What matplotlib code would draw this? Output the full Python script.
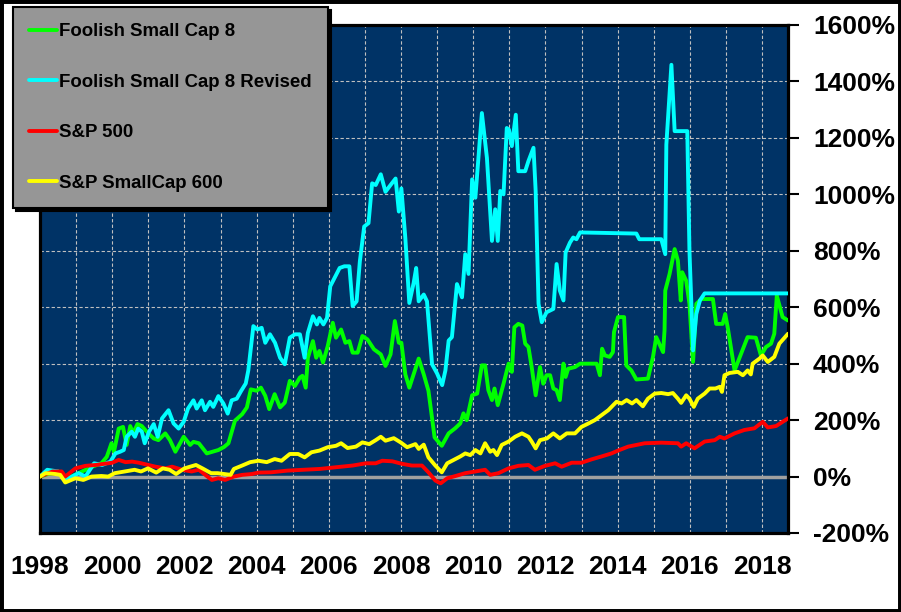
import matplotlib
matplotlib.use("Agg")
import matplotlib.pyplot as plt
from matplotlib.patches import Rectangle
from matplotlib.ticker import MultipleLocator, FuncFormatter

plt.rcParams['font.family'] = ['Liberation Sans', 'DejaVu Sans']
plt.rcParams['font.weight'] = 'bold'

# cumulative return (%), x in fractional years
fsc8_t = [1998.0, 1998.25, 1998.5, 1998.7, 1999.07, 1999.45, 1999.7, 1999.85, 1999.98, 2000.05,
          2000.18, 2000.3, 2000.4, 2000.5, 2000.58, 2000.7, 2000.82, 2001.0, 2001.15, 2001.28,
          2001.47, 2001.6, 2001.75, 2001.98, 2002.16, 2002.25, 2002.4, 2002.62, 2002.94, 2003.1,
          2003.22, 2003.4, 2003.6, 2003.73, 2003.84, 2004.0, 2004.12, 2004.24, 2004.35, 2004.5,
          2004.65, 2004.78, 2004.92, 2005.06, 2005.2, 2005.27, 2005.36, 2005.42, 2005.56, 2005.65,
          2005.74, 2005.84, 2005.97, 2006.11, 2006.2, 2006.34, 2006.46, 2006.57, 2006.66, 2006.8,
          2006.93, 2007.07, 2007.25, 2007.44, 2007.57, 2007.71, 2007.83, 2007.94, 2008.01, 2008.12,
          2008.23, 2008.35, 2008.49, 2008.63, 2008.76, 2008.93, 2009.13, 2009.32, 2009.5, 2009.64,
          2009.73, 2009.82, 2009.97, 2010.11, 2010.24, 2010.33, 2010.42, 2010.52, 2010.59, 2010.68,
          2010.84, 2010.98, 2011.07, 2011.14, 2011.25, 2011.36, 2011.44, 2011.53, 2011.62, 2011.73,
          2011.85, 2011.94, 2012.03, 2012.13, 2012.22, 2012.31, 2012.4, 2012.5, 2012.56, 2012.63,
          2012.82, 2012.96, 2013.42, 2013.51, 2013.57, 2013.65, 2013.78, 2013.87, 2013.9, 2014.01,
          2014.18, 2014.24, 2014.38, 2014.52, 2014.84, 2014.98, 2015.07, 2015.26, 2015.3, 2015.32,
          2015.44, 2015.58, 2015.67, 2015.75, 2015.79, 2015.9, 2015.99, 2016.09, 2016.18, 2016.32,
          2016.64, 2016.73, 2016.91, 2016.98, 2017.05, 2017.24, 2017.42, 2017.6, 2017.83, 2017.97,
          2018.11, 2018.25, 2018.34, 2018.41, 2018.57, 2018.72]
fsc8_v = [0, 10, 18, -10, 12, 35, 47, 70, 118, 88,
          170, 176, 112, 179, 153, 186, 179, 153, 135, 129,
          153, 129, 88, 141, 112, 123, 118, 82, 94, 105,
          118, 198, 221, 245, 309, 304, 315, 286, 239, 292,
          245, 262, 339, 321, 351, 357, 315, 421, 480, 421,
          445, 404, 462, 545, 492, 521, 474, 480, 439, 439,
          498, 486, 451, 433, 392, 433, 551, 474, 474, 362,
          315, 362, 418, 362, 304, 139, 109, 153, 171, 188,
          224, 200, 288, 294, 394, 394, 306, 271, 312, 253,
          329, 400, 371, 529, 541, 535, 471, 459, 388, 288,
          388, 329, 359, 359, 312, 306, 271, 400, 353, 382,
          388, 400, 400, 359, 453, 429, 424, 441, 512, 565,
          565, 394, 376, 344, 347, 424, 494, 441, 518, 659,
          718, 806, 765, 624, 724, 694, 612, 406, 612, 629,
          629, 541, 541, 576, 529, 376, 435, 494, 492, 429,
          459, 471, 506, 641, 565, 553]

rev_t = [1998.0, 1998.2, 1998.5, 1998.7, 1999.07, 1999.26, 1999.5, 1999.72, 1999.95, 2000.09,
         2000.22, 2000.32, 2000.4, 2000.54, 2000.63, 2000.72, 2000.82, 2000.9, 2001.02, 2001.15,
         2001.26, 2001.38, 2001.56, 2001.7, 2001.84, 2001.98, 2002.1, 2002.25, 2002.34, 2002.48,
         2002.57, 2002.71, 2002.8, 2002.94, 2003.08, 2003.2, 2003.31, 2003.45, 2003.57, 2003.7,
         2003.77, 2003.91, 2004.02, 2004.14, 2004.24, 2004.37, 2004.51, 2004.65, 2004.78, 2004.92,
         2005.06, 2005.2, 2005.33, 2005.42, 2005.56, 2005.67, 2005.74, 2005.85, 2005.95, 2006.04,
         2006.16, 2006.3, 2006.43, 2006.57, 2006.66, 2006.77, 2006.86, 2006.98, 2007.1, 2007.2,
         2007.3, 2007.44, 2007.57, 2007.71, 2007.85, 2007.94, 2008.01, 2008.12, 2008.23, 2008.35,
         2008.42, 2008.49, 2008.63, 2008.72, 2008.86, 2009.0, 2009.14, 2009.23, 2009.32, 2009.41,
         2009.55, 2009.69, 2009.78, 2009.87, 2009.97, 2010.06, 2010.24, 2010.38, 2010.52, 2010.61,
         2010.68, 2010.75, 2010.84, 2010.93, 2010.99, 2011.07, 2011.18, 2011.25, 2011.44, 2011.53,
         2011.67, 2011.73, 2011.81, 2011.9, 2012.03, 2012.22, 2012.31, 2012.4, 2012.5, 2012.56,
         2012.68, 2012.77, 2012.86, 2012.96, 2014.52, 2014.6, 2015.21, 2015.32, 2015.35, 2015.49,
         2015.58, 2015.93, 2015.99, 2016.09, 2016.18, 2016.28, 2016.41, 2018.72]
rev_v = [0, 24, 18, -12, 12, 0, 47, 41, 53, 82,
         88, 94, 141, 159, 141, 170, 159, 118, 159, 186,
         141, 206, 235, 188, 170, 194, 241, 270, 241, 270,
         235, 265, 247, 285, 259, 223, 270, 276, 303, 330,
         376, 533, 521, 527, 474, 504, 474, 421, 398, 492,
         504, 504, 421, 509, 568, 539, 562, 539, 562, 674,
         704, 739, 745, 745, 604, 621, 762, 886, 898, 1039,
         1033, 1071, 1009, 1033, 1056, 939, 1021, 845, 615, 686,
         739, 621, 645, 621, 398, 365, 324, 376, 482, 494,
         682, 635, 788, 718, 1053, 988, 1288, 1129, 835, 947,
         835, 1012, 1000, 1235, 1229, 1171, 1282, 1082, 1082, 1118,
         1165, 1012, 612, 547, 582, 594, 753, 659, 624, 794,
         829, 847, 841, 865, 861, 841, 841, 788, 1176, 1459,
         1224, 1224, 800, 447, 576, 624, 649, 649]

sp500_t = [1998.0, 1998.35, 1998.6, 1998.7, 1998.98, 1999.26, 1999.54, 1999.77, 2000.0, 2000.18,
           2000.37, 2000.55, 2000.74, 2001.0, 2001.2, 2001.47, 2001.66, 2001.94, 2002.2, 2002.4,
           2002.58, 2002.76, 2002.94, 2003.13, 2003.37, 2003.6, 2003.87, 2004.05, 2004.4, 2004.85,
           2005.29, 2005.75, 2006.2, 2006.66, 2007.03, 2007.3, 2007.48, 2007.76, 2008.03, 2008.3,
           2008.58, 2008.76, 2008.95, 2009.1, 2009.28, 2009.51, 2009.78, 2010.06, 2010.33, 2010.47,
           2010.7, 2010.98, 2011.25, 2011.53, 2011.71, 2011.99, 2012.27, 2012.45, 2012.73, 2013.0,
           2013.28, 2013.55, 2013.83, 2014.01, 2014.29, 2014.75, 2015.21, 2015.67, 2015.76, 2015.9,
           2016.13, 2016.41, 2016.69, 2016.83, 2016.96, 2017.24, 2017.51, 2017.79, 2018.02, 2018.16,
           2018.39, 2018.72]
sp500_v = [0, 18, 18, 0, 29, 38, 41, 45, 49, 59,
           51, 53, 49, 41, 35, 29, 35, 24, 18, 24,
           6, -12, -6, -12, 0, 6, 9, 14, 15, 21,
           24, 27, 33, 39, 47, 47, 56, 54, 45, 39,
           39, 15, -14, -24, -6, 2, 12, 18, 24, 6,
           12, 29, 38, 41, 24, 38, 47, 35, 49, 49,
           61, 71, 82, 92, 106, 118, 120, 118, 106, 118,
           100, 124, 129, 141, 135, 153, 165, 171, 194, 174,
           179, 206]

sc600_t = [1998.0, 1998.15, 1998.42, 1998.56, 1998.7, 1998.98, 1999.2, 1999.43, 1999.7, 1999.89,
           2000.07, 2000.35, 2000.62, 2000.8, 2000.99, 2001.22, 2001.4, 2001.59, 2001.77, 2002.0,
           2002.32, 2002.5, 2002.74, 2002.92, 2003.1, 2003.28, 2003.37, 2003.6, 2003.82, 2004.05,
           2004.28, 2004.5, 2004.69, 2004.92, 2005.15, 2005.33, 2005.52, 2005.74, 2005.97, 2006.2,
           2006.34, 2006.52, 2006.75, 2006.93, 2007.12, 2007.3, 2007.44, 2007.57, 2007.8, 2007.99,
           2008.17, 2008.4, 2008.49, 2008.63, 2008.76, 2008.95, 2009.13, 2009.28, 2009.46, 2009.64,
           2009.78, 2009.92, 2010.06, 2010.2, 2010.33, 2010.47, 2010.56, 2010.66, 2010.79, 2010.98,
           2011.16, 2011.35, 2011.53, 2011.62, 2011.73, 2011.85, 2012.04, 2012.22, 2012.4, 2012.59,
           2012.82, 2013.0, 2013.19, 2013.37, 2013.56, 2013.74, 2013.97, 2014.11, 2014.25, 2014.4,
           2014.52, 2014.7, 2014.84, 2015.03, 2015.21, 2015.4, 2015.53, 2015.67, 2015.76, 2015.9,
           2015.99, 2016.11, 2016.22, 2016.41, 2016.55, 2016.71, 2016.83, 2016.89, 2016.96, 2017.1,
           2017.33, 2017.47, 2017.6, 2017.69, 2017.74, 2017.93, 2018.02, 2018.16, 2018.34, 2018.48,
           2018.72]
sc600_v = [0, 12, 9, 6, -21, -6, -12, 0, 2, 0,
           12, 18, 24, 18, 29, 14, 29, 24, 9, 29,
           41, 29, 12, 12, 9, 6, 27, 39, 51, 56,
           51, 62, 56, 80, 80, 68, 86, 92, 104, 109,
           118, 101, 106, 121, 115, 129, 141, 127, 136, 121,
           104, 115, 98, 113, 68, 39, 15, 47, 59, 71,
           82, 76, 94, 82, 118, 88, 94, 76, 112, 124,
           141, 153, 141, 124, 100, 129, 135, 153, 135, 153,
           153, 176, 188, 200, 218, 235, 265, 259, 271, 259,
           271, 249, 276, 294, 296, 292, 296, 276, 261, 288,
           276, 247, 276, 294, 312, 312, 318, 300, 359, 367,
           371, 359, 376, 362, 400, 418, 429, 406, 424, 471,
           506]

series = [
    ("Foolish Small Cap 8", fsc8_t, fsc8_v, "#00ff00"),
    ("Foolish Small Cap 8 Revised", rev_t, rev_v, "#00ffff"),
    ("S&P 500", sp500_t, sp500_v, "#ff0000"),
    ("S&P SmallCap 600", sc600_t, sc600_v, "#ffff00"),
]

W, H = 901, 612
fig = plt.figure(figsize=(W / 100, H / 100), dpi=100)
ax = fig.add_axes([40 / W, 1 - 533 / H, 748 / W, 508 / H])
ax.set_facecolor("#003366")

for name, t, v, c in series:
    ax.plot(t, v, color=c, lw=2.8, label=name, zorder=3,
            solid_joinstyle="round", solid_capstyle="round")

ax.axhline(0, color="#a0a0a0", lw=2.5, zorder=2)

ax.set_xlim(1998, 2018.72)
ax.set_ylim(-200, 1600)
ax.xaxis.set_major_locator(MultipleLocator(2))
ax.xaxis.set_minor_locator(MultipleLocator(1))
ax.yaxis.set_major_locator(MultipleLocator(200))
ax.xaxis.set_major_formatter(FuncFormatter(lambda v, p: f"{v:.0f}"))
ax.yaxis.set_major_formatter(FuncFormatter(lambda v, p: f"{v:.0f}%"))
ax.set_axisbelow(True)
ax.grid(which="both", axis="x", color="#c0c0c0", ls=(0, (3, 2)), lw=0.8)
ax.grid(which="major", axis="y", color="#c0c0c0", ls=(0, (3, 2)), lw=0.8)

ax.yaxis.tick_right()
ax.tick_params(axis="y", direction="out", length=8, width=1.5, pad=10, labelsize=19)
ax.tick_params(axis="x", which="both", length=0, pad=16, labelsize=19)
for s in ax.spines.values():
    s.set_linewidth(2.3)
    s.set_color("black")

leg = ax.legend(loc="upper left", bbox_to_anchor=(13 / W, 1 - 7 / H),
                bbox_transform=fig.transFigure, borderaxespad=0,
                fancybox=False, facecolor="#969696", edgecolor="black",
                framealpha=1, shadow={"color": "black", "alpha": 1},
                prop={"size": 13.4, "weight": "bold"},
                handlelength=1.5, handletextpad=0.1, labelspacing=1.8,
                borderpad=0.88)
leg.get_frame().set_linewidth(1.5)

fig.patches.append(Rectangle((0, 0), 1, 1, transform=fig.transFigure,
                             fill=False, edgecolor="black", lw=5))

fig.savefig("out.png", dpi=100)
